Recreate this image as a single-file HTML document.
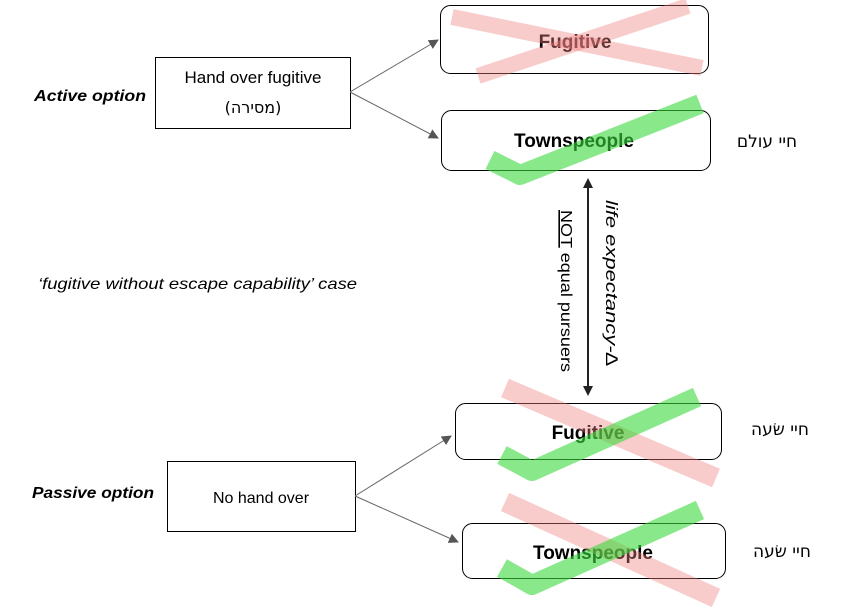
<!DOCTYPE html>
<html><head><meta charset="utf-8">
<style>
html,body{margin:0;padding:0;background:#fff;}
svg{display:block;}
text{font-family:"Liberation Sans","DejaVu Sans",sans-serif;}
.heb{font-family:"DejaVu Sans","Liberation Sans",sans-serif;}
</style></head>
<body>
<svg width="860" height="608" viewBox="0 0 860 608" xmlns="http://www.w3.org/2000/svg">
<defs>
<marker id="ah" markerWidth="10" markerHeight="10" refX="9" refY="5" orient="auto" markerUnits="userSpaceOnUse" viewBox="0 0 10 10">
<path d="M0,0 L10,5 L0,10 z" fill="#555"/></marker>
</defs>

<rect x="155.5" y="57.5" width="195" height="71" fill="#fff" stroke="#000"/>
<text x="253" y="83" font-size="17" text-anchor="middle">Hand over fugitive</text>
<text x="253" y="113" font-size="16" text-anchor="middle" class="heb">(מסירה)</text>

<rect x="167.5" y="461.5" width="188" height="70" fill="#fff" stroke="#000"/>
<text x="261" y="503" font-size="16" text-anchor="middle">No hand over</text>

<rect x="440.5" y="5.5" width="268" height="68" rx="10" fill="#fff" stroke="#000"/>
<rect x="441.5" y="110.5" width="269" height="60" rx="10" fill="#fff" stroke="#000"/>
<rect x="455.5" y="403.5" width="266" height="56" rx="10" fill="#fff" stroke="#000"/>
<rect x="462.5" y="523.5" width="263" height="55" rx="10" fill="#fff" stroke="#000"/>

<text x="575" y="48" font-size="19" font-weight="bold" text-anchor="middle">Fugitive</text>
<text x="574" y="147" font-size="19" font-weight="bold" text-anchor="middle">Townspeople</text>
<text x="588" y="439" font-size="19" font-weight="bold" text-anchor="middle">Fugitive</text>
<text x="593" y="559" font-size="19" font-weight="bold" text-anchor="middle">Townspeople</text>

<g stroke="#f08080" stroke-opacity="0.4" fill="none">
<line x1="452" y1="17" x2="702" y2="68" stroke-width="16"/>
<line x1="478" y1="76" x2="688" y2="6" stroke-width="16"/>
<line x1="505" y1="388" x2="716" y2="478" stroke-width="20"/>
<line x1="505" y1="502" x2="716" y2="598" stroke-width="20"/>
</g>
<g fill="none" stroke="#3ad83a" stroke-opacity="0.6" stroke-linejoin="round">
<polyline points="490,160 520,175 700,104" stroke-width="20"/>
<polyline points="502,455 532,471 697,397" stroke-width="20"/>
<polyline points="502,568 532,585 700,510" stroke-width="20"/>
</g>

<text x="767" y="147" font-size="17" text-anchor="middle" class="heb">חיי עולם</text>
<text x="780" y="435" font-size="17" text-anchor="middle" class="heb">חיי שׂעה</text>
<text x="782" y="557" font-size="17" text-anchor="middle" class="heb">חיי שׂעה</text>

<line x1="350" y1="92" x2="438" y2="40" stroke="#666" stroke-width="1" marker-end="url(#ah)"/>
<line x1="350" y1="92" x2="438" y2="138" stroke="#666" stroke-width="1" marker-end="url(#ah)"/>
<line x1="355" y1="496" x2="451" y2="436" stroke="#666" stroke-width="1" marker-end="url(#ah)"/>
<line x1="355" y1="496" x2="458" y2="542" stroke="#666" stroke-width="1" marker-end="url(#ah)"/>

<line x1="588" y1="186" x2="588" y2="388" stroke="#222" stroke-width="2"/>
<polygon points="588,178 583,188 593,188" fill="#222"/>
<polygon points="588,396 583,386 593,386" fill="#222"/>

<text transform="translate(561,210) rotate(90)" font-size="16" textLength="162" lengthAdjust="spacingAndGlyphs"><tspan text-decoration="underline">NOT</tspan> equal pursuers</text>
<text transform="translate(606,200) rotate(90)" font-size="17" font-style="italic" textLength="166" lengthAdjust="spacingAndGlyphs">life expectancy-∆</text>

<text x="34" y="101" font-size="16" font-weight="bold" font-style="italic" textLength="112" lengthAdjust="spacingAndGlyphs">Active option</text>
<text x="32" y="498" font-size="16" font-weight="bold" font-style="italic" textLength="122" lengthAdjust="spacingAndGlyphs">Passive option</text>
<text x="38" y="289" font-size="16" font-style="italic" textLength="319" lengthAdjust="spacingAndGlyphs">‘fugitive without escape capability’ case</text>
</svg>
</body></html>
